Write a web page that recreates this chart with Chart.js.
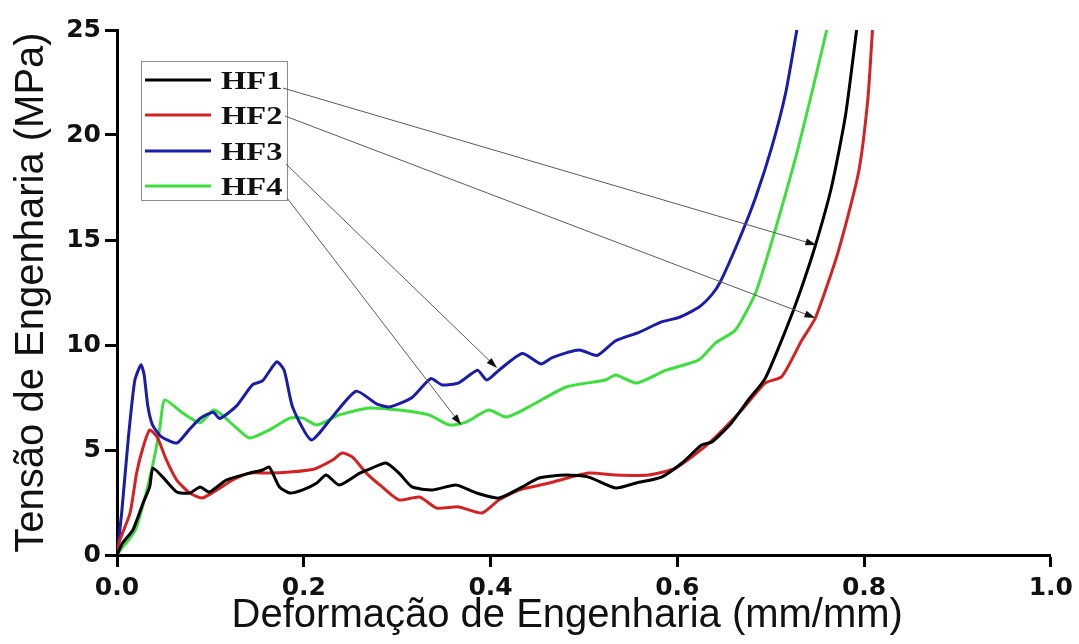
<!DOCTYPE html>
<html>
<head>
<meta charset="utf-8">
<script src="https://cdn.jsdelivr.net/npm/chart.js@4"></script>
<style>
  html, body { margin: 0; padding: 0; background: #fff; }
  #wrap { width: 1079px; height: 644px; }
</style>
</head>
<body>
<div id="wrap"><canvas id="myChart" width="1079" height="644"></canvas></div>
<script>
// curvas tensão x deformação
const series = ['HF1', 'HF2', 'HF3', 'HF4'];
const cores = ['#000000', '#d42222', '#1c1caa', '#3ddf3d'];

const hf1X = [0, 0.006, 0.017, 0.028, 0.035, 0.0385, 0.049, 0.064, 0.078, 0.089, 0.099, 0.117, 0.142, 0.156, 0.163, 0.174, 0.185, 0.199, 0.214, 0.224, 0.238, 0.260, 0.273, 0.288, 0.302, 0.316, 0.338, 0.363, 0.385, 0.409, 0.434, 0.452, 0.481, 0.505, 0.534, 0.556, 0.583, 0.605, 0.626, 0.637, 0.658, 0.676, 0.694, 0.716, 0.732, 0.748, 0.765, 0.780, 0.792];
const hf1Y = [0, 0.57, 1.19, 2.48, 3.24, 4.14, 3.71, 3.0, 2.95, 3.24, 3.0, 3.57, 3.9, 4.05, 4.19, 3.24, 2.95, 3.1, 3.43, 3.81, 3.33, 3.9, 4.14, 4.38, 3.9, 3.24, 3.1, 3.33, 2.95, 2.71, 3.24, 3.67, 3.81, 3.71, 3.19, 3.43, 3.71, 4.38, 5.24, 5.38, 6.29, 7.38, 8.4, 10.7, 12.6, 14.76, 17.5, 20.9, 25];

const hf2X = [0, 0.003, 0.014, 0.021, 0.028, 0.035, 0.043, 0.053, 0.064, 0.078, 0.091, 0.107, 0.124, 0.142, 0.163, 0.185, 0.206, 0.214, 0.231, 0.241, 0.252, 0.267, 0.284, 0.302, 0.324, 0.342, 0.366, 0.391, 0.409, 0.431, 0.463, 0.505, 0.534, 0.569, 0.598, 0.634, 0.669, 0.694, 0.712, 0.733, 0.748, 0.772, 0.794, 0.804, 0.809];
const hf2Y = [0, 0.7, 2.0, 3.9, 5.14, 5.95, 5.62, 4.52, 3.57, 2.95, 2.71, 3.1, 3.57, 3.9, 3.9, 3.95, 4.05, 4.14, 4.52, 4.86, 4.67, 3.9, 3.24, 2.62, 2.76, 2.24, 2.29, 2.0, 2.62, 3.1, 3.43, 3.9, 3.81, 3.81, 4.14, 5.33, 6.9, 8.19, 8.5, 10.2, 11.3, 14.4, 18.2, 21.7, 25];

const hf3X = [0, 0.005, 0.012, 0.019, 0.0256, 0.029, 0.033, 0.038, 0.047, 0.064, 0.076, 0.089, 0.103, 0.110, 0.128, 0.145, 0.156, 0.171, 0.179, 0.188, 0.208, 0.231, 0.256, 0.278, 0.292, 0.316, 0.336, 0.348, 0.366, 0.386, 0.396, 0.409, 0.434, 0.454, 0.466, 0.495, 0.514, 0.534, 0.559, 0.583, 0.601, 0.623, 0.637, 0.646, 0.666, 0.684, 0.701, 0.716, 0.728];
const hf3Y = [0, 2.0, 5.5, 8.3, 9.05, 8.6, 7.1, 6.2, 5.65, 5.33, 5.9, 6.5, 6.8, 6.5, 7.1, 8.1, 8.3, 9.2, 8.8, 7.05, 5.48, 6.6, 7.8, 7.2, 7.05, 7.5, 8.4, 8.1, 8.2, 8.8, 8.33, 8.8, 9.6, 9.1, 9.4, 9.76, 9.5, 10.2, 10.6, 11.1, 11.3, 11.8, 12.4, 13.0, 15.0, 17.05, 19.4, 22.0, 25];

const hf4X = [0, 0.006, 0.014, 0.021, 0.032, 0.041, 0.046, 0.051, 0.0705, 0.089, 0.103, 0.110, 0.128, 0.142, 0.163, 0.185, 0.199, 0.214, 0.238, 0.270, 0.302, 0.334, 0.356, 0.374, 0.398, 0.417, 0.441, 0.481, 0.523, 0.534, 0.556, 0.588, 0.623, 0.641, 0.662, 0.684, 0.705, 0.726, 0.744, 0.760];
const hf4Y = [0, 0.38, 0.8, 1.33, 3.1, 4.86, 6.1, 7.38, 6.76, 6.3, 6.9, 6.76, 6.05, 5.57, 5.95, 6.52, 6.52, 6.19, 6.67, 7.0, 6.9, 6.67, 6.19, 6.33, 6.9, 6.57, 7.05, 8.0, 8.33, 8.57, 8.19, 8.8, 9.29, 10.1, 10.7, 12.5, 15.5, 18.8, 22.0, 25];

const ticksX = [0, 0.2, 0.4, 0.6, 0.8, 1.0];
const ticksY = [0, 5, 10, 15, 20, 25];

// ponta de cada seta (coordenadas dos dados)
const setaX = [0.749, 0.748, 0.407, 0.3686];
const setaY = [14.76, 11.29, 8.9, 6.19];

const xs = [hf1X, hf2X, hf3X, hf4X];
const ys = [hf1Y, hf2Y, hf3Y, hf4Y];

function pontos(x, y) {
  return x.map((v, i) => ({ x: v, y: y[i] }));
}

// legenda em caixa + setas
const legendaSetas = {
  id: 'legendaSetas',
  afterDatasetsDraw(chart) {
    const ctx = chart.ctx;
    const sx = chart.scales.x, sy = chart.scales.y;
    ctx.save();
    // caixa
    ctx.strokeStyle = '#8a8a8a';
    ctx.lineWidth = 1;
    ctx.strokeRect(141.5, 61.5, 146, 139);
    const linhas = [80, 115, 151, 186];
    chart.data.datasets.forEach((ds, i) => {
      const yy = linhas[i];
      ctx.strokeStyle = ds.borderColor;
      ctx.lineWidth = 3;
      ctx.beginPath();
      ctx.moveTo(145, yy);
      ctx.lineTo(211, yy);
      ctx.stroke();
      ctx.save();
      ctx.translate(221, yy + 9);
      ctx.scale(1.25, 1);
      ctx.fillStyle = '#111';
      ctx.font = 'bold 26px "Liberation Serif"';
      ctx.textBaseline = 'alphabetic';
      ctx.fillText(ds.label, 0, 0);
      ctx.restore();
    });
    // setas
    const inicio = [[283, 88], [285, 116], [286, 164], [287, 198]];
    for (let i = 0; i < setaX.length; i++) {
      const x0 = inicio[i][0], y0 = inicio[i][1];
      const x1 = sx.getPixelForValue(setaX[i]);
      const y1 = sy.getPixelForValue(setaY[i]);
      const ang = Math.atan2(y1 - y0, x1 - x0);
      ctx.strokeStyle = '#5a5a5a';
      ctx.lineWidth = 1;
      ctx.beginPath();
      ctx.moveTo(x0, y0);
      ctx.lineTo(x1 - 8 * Math.cos(ang), y1 - 8 * Math.sin(ang));
      ctx.stroke();
      ctx.fillStyle = '#111';
      ctx.beginPath();
      ctx.moveTo(x1, y1);
      ctx.lineTo(x1 - 11 * Math.cos(ang) + 3.5 * Math.sin(ang), y1 - 11 * Math.sin(ang) - 3.5 * Math.cos(ang));
      ctx.lineTo(x1 - 11 * Math.cos(ang) - 3.5 * Math.sin(ang), y1 - 11 * Math.sin(ang) + 3.5 * Math.cos(ang));
      ctx.closePath();
      ctx.fill();
    }
    ctx.restore();
  }
};

const fonteTicks = { family: '"DejaVu Sans"', size: 25, weight: 'bold' };
const fonteTitulo = { family: '"Liberation Sans"', size: 40, weight: 'normal' };

new Chart(document.getElementById('myChart'), {
  type: 'line',
  data: {
    datasets: series.map((nome, i) => ({
      label: nome,
      data: pontos(xs[i], ys[i]),
      borderColor: cores[i],
      borderWidth: 3,
      pointRadius: 0,
      fill: false,
      tension: 0.2
    }))
  },
  options: {
    responsive: false,
    animation: false,
    layout: { padding: { top: 30, right: 26, left: 0, bottom: 0 } },
    plugins: { legend: { display: false }, tooltip: { enabled: false } },
    scales: {
      x: {
        type: 'linear',
        min: 0, max: 1,
        afterBuildTicks: s => { s.ticks = ticksX.map(v => ({ value: v })); },
        afterFit: s => { s.height = 89; },
        ticks: {
          color: '#111', font: fonteTicks, padding: 6, maxRotation: 0,
          callback: v => v.toFixed(1)
        },
        grid: { drawOnChartArea: false, drawTicks: true, tickLength: 12, tickWidth: 3, tickColor: '#000' },
        border: { display: true, color: '#000', width: 3 },
        // espaços no fim deslocam o título um pouco para a esquerda, como no original
        title: { display: true, text: 'Deformação de Engenharia (mm/mm)   ', color: '#111', font: fonteTitulo, padding: { top: 0, bottom: 4 } }
      },
      y: {
        min: 0, max: 25,
        afterBuildTicks: s => { s.ticks = ticksY.map(v => ({ value: v })); },
        afterFit: s => { s.width = 117; },
        ticks: { color: '#111', font: fonteTicks, padding: 4 },
        grid: { drawOnChartArea: false, drawTicks: true, tickLength: 12, tickWidth: 3, tickColor: '#000' },
        border: { display: true, color: '#000', width: 3 },
        title: { display: true, text: 'Tensão de Engenharia (MPa)', color: '#111', font: fonteTitulo, padding: { top: 8, bottom: 0 } }
      }
    }
  },
  plugins: [legendaSetas]
});
</script>
</body>
</html>
